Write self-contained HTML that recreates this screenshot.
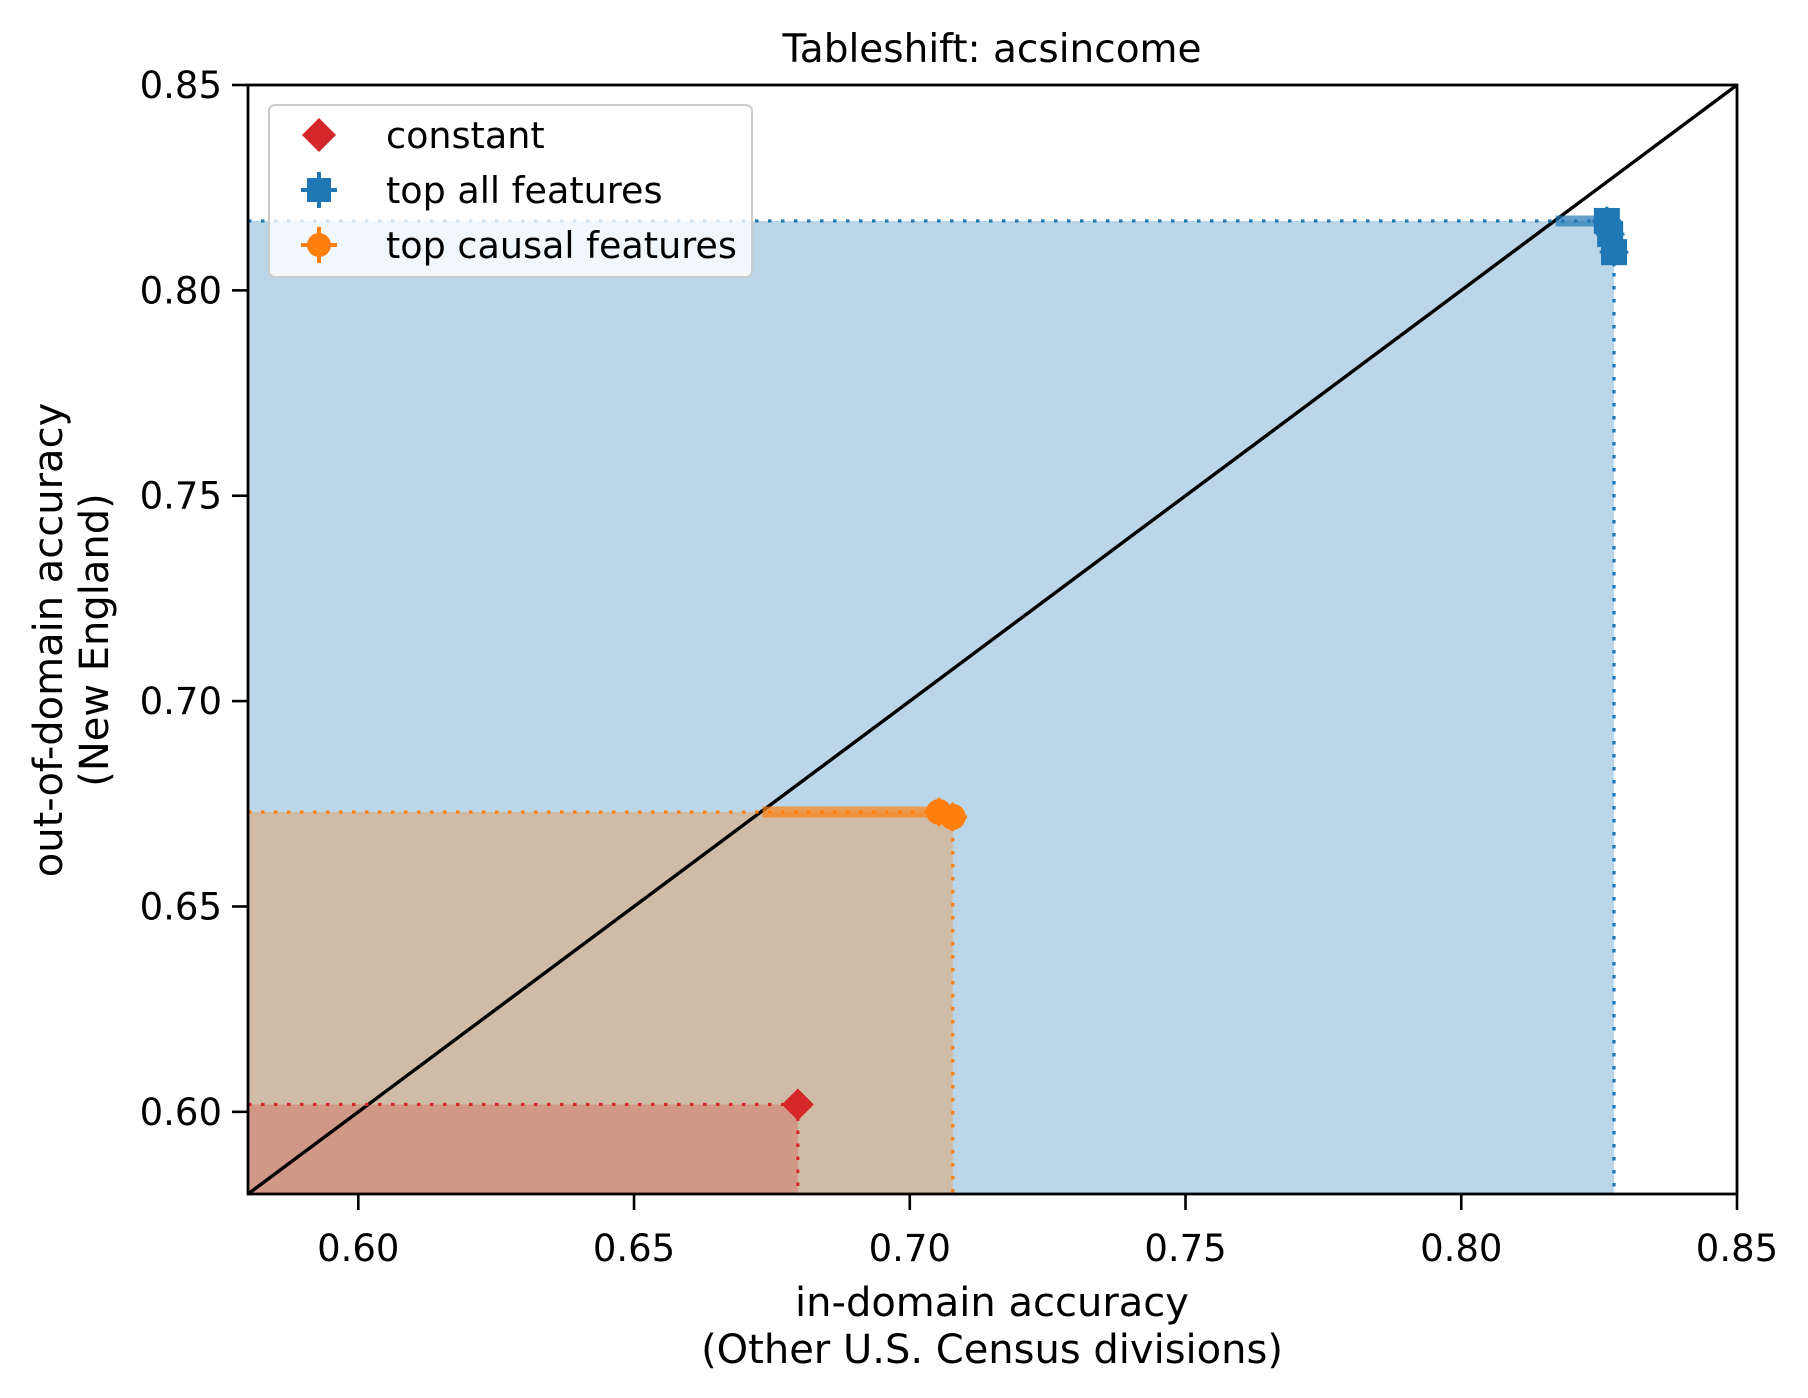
<!DOCTYPE html>
<html><head><meta charset="utf-8"><style>
html,body{margin:0;padding:0;background:#fff}
svg{display:block;font-family:"DejaVu Sans","Liberation Sans",sans-serif}
</style></head><body>
<svg id="chart" width="1808" height="1398" viewBox="0 0 1808 1398">
<rect width="1808" height="1398" fill="#fff"/>
<g id="plot"></g>
</svg>
<script>
const seriesNames = ["constant", "top all features", "top causal features"];
const seriesColors = ["#d62728", "#1f77b4", "#ff7f0e"];
const constX = [0.6797];
const constY = [0.6018];
const allX = [0.8264, 0.8270, 0.8277];
const allY = [0.8169, 0.8137, 0.8093];
const causalX = [0.7053, 0.7078];
const causalY = [0.6730, 0.6718];
const xTicks = [0.60, 0.65, 0.70, 0.75, 0.80, 0.85];
const yTicks = [0.60, 0.65, 0.70, 0.75, 0.80, 0.85];
const xDomain = [0.58, 0.85];
const yDomain = [0.58, 0.85];

const L=248,R=1737,T=85,B=1194;
const sx=v=>L+(v-xDomain[0])/(xDomain[1]-xDomain[0])*(R-L);
const sy=v=>B-(v-yDomain[0])/(yDomain[1]-yDomain[0])*(B-T);
const NS="http://www.w3.org/2000/svg";
const g=document.getElementById('plot');
function mk(tag,attrs,parent){const e=document.createElementNS(NS,tag);for(const k in attrs)e.setAttribute(k,attrs[k]);(parent||g).appendChild(e);return e;}

const defs=mk('defs',{});
const cp=mk('clipPath',{id:'clip'},defs);mk('rect',{x:L,y:T,width:R-L,height:B-T},cp);
const inner=mk('g',{'clip-path':'url(#clip)'});

const fillOp=[0.23,0.3,0.3];
const groups=[[allX,allY,1],[causalX,causalY,2],[constX,constY,0]];
groups.forEach(([xs,ys,ci])=>{
  const mx=Math.max(...xs), my=Math.max(...ys);
  const r=mk('rect',{x:L,y:sy(my),width:sx(mx)-L,height:B-sy(my),fill:seriesColors[ci],'fill-opacity':fillOp[ci]},inner);
  
  
});
const d=mk('line',{x1:sx(xDomain[0]),y1:sy(yDomain[0]),x2:sx(0.85),y2:sy(0.85),stroke:'#000','stroke-width':3.4},inner);


groups.forEach(([xs,ys,ci])=>{
  const mx=Math.max(...xs), my=Math.max(...ys), minx=Math.min(...xs);
  const c=seriesColors[ci];
  const h=mk('line',{x1:L,y1:sy(my),x2:sx(mx),y2:sy(my),stroke:c,'stroke-width':3.2,'stroke-dasharray':'3.5,9.5'},inner);
  
  
  const v=mk('line',{x1:sx(mx),y1:sy(my),x2:sx(mx),y2:B,stroke:c,'stroke-width':3.2,'stroke-dasharray':'3.5,9.5'},inner);
  
  
  if(ci!==0){
    const lo = ci===1 ? minx-0.0093 : minx-0.032;
    const eb=mk('line',{x1:sx(lo),y1:sy(ys[0]),x2:sx(xs[0]),y2:sy(ys[0]),stroke:c,'stroke-width':11,'stroke-opacity':0.7},inner);
    
    
  }
});
function marker(ci,x,y,s,parent,ext){
  const c=seriesColors[ci];let e;
  if(ci===0){e=mk('polygon',{points:`${x},${y-s} ${x+s},${y} ${x},${y+s} ${x-s},${y}`,fill:c},parent);}
  else{
    const gg=mk('g',{},parent);
    mk('line',{x1:x-s*ext,y1:y,x2:x+s*ext,y2:y,stroke:c,'stroke-width':3},gg);
    mk('line',{x1:x,y1:y-s*ext,x2:x,y2:y+s*ext,stroke:c,'stroke-width':3},gg);
    if(ci===1) mk('rect',{x:x-s,y:y-s,width:2*s,height:2*s,fill:c},gg);
    else mk('circle',{cx:x,cy:y,r:s,fill:c},gg);
    e=gg;
  }
  return e;
}
groups.forEach(([xs,ys,ci])=>{
  xs.forEach((xv,i)=>{
    const m=marker(ci,sx(xv),sy(ys[i]),ci===0?16:13,inner,1.1);
    
    
  });
});
const fr=mk('rect',{x:L,y:T,width:R-L,height:B-T,fill:'none',stroke:'#000','stroke-width':2.8});


xTicks.forEach(t=>{
  mk('line',{x1:sx(t),y1:B,x2:sx(t),y2:B+16,stroke:'#000','stroke-width':2.6});
  const tx=mk('text',{x:sx(t),y:B+67,'font-size':37,'text-anchor':'middle',fill:'#000'});tx.textContent=t.toFixed(2);
  
  
});
yTicks.forEach(t=>{
  mk('line',{x1:L-16,y1:sy(t),x2:L,y2:sy(t),stroke:'#000','stroke-width':2.6});
  const tx=mk('text',{x:L-26,y:sy(t)+13,'font-size':37,'text-anchor':'end',fill:'#000'});tx.textContent=t.toFixed(2);
  
  
});
</script>
<script>
(function(){
const svg=document.getElementById('chart');const NS="http://www.w3.org/2000/svg";
function t(x,y,s,txt,name,extra){const e=document.createElementNS(NS,'text');e.setAttribute('x',x);e.setAttribute('y',y);e.setAttribute('font-size',s);e.setAttribute('fill','#000');if(extra)for(const k in extra)e.setAttribute(k,extra[k]);e.textContent=txt;


svg.appendChild(e);return e;}
t(992,62,39,'Tableshift: acsincome','chart-title',{'text-anchor':'middle'});
t(992,1316,40,'in-domain accuracy','x-axis-title',{'text-anchor':'middle'});
t(992,1363,40,'(Other U.S. Census divisions)','x-axis-subtitle',{'text-anchor':'middle'});
t(62,640,40,'out-of-domain accuracy','y-axis-title',{'text-anchor':'middle',transform:'rotate(-90 62 640)'});
t(108,640,40,'(New England)','y-axis-subtitle',{'text-anchor':'middle',transform:'rotate(-90 108 640)'});
const lg=document.createElementNS(NS,'g');


svg.appendChild(lg);
const box=document.createElementNS(NS,'rect');
const at={x:269,y:105,width:483,height:172,rx:6,fill:'#fff','fill-opacity':0.8,stroke:'#ccc','stroke-width':2};
for(const k in at)box.setAttribute(k,at[k]);lg.appendChild(box);
const names=["constant","top all features","top causal features"];
const cols=["#d62728","#1f77b4","#ff7f0e"];
names.forEach((n,i)=>{
  const y=135+i*55,x=319;
  const mg=document.createElementNS(NS,'g');
  
  
  lg.appendChild(mg);
  let html='';
  if(i===0) html=`<polygon points="${x},${y-17} ${x+17},${y} ${x},${y+17} ${x-17},${y}" fill="${cols[0]}"/>`;
  else{
    html=`<line x1="${x-18}" y1="${y}" x2="${x+18}" y2="${y}" stroke="${cols[i]}" stroke-width="4"/><line x1="${x}" y1="${y-18}" x2="${x}" y2="${y+18}" stroke="${cols[i]}" stroke-width="4"/>`;
    html+= i===1?`<rect x="${x-12}" y="${y-12}" width="24" height="24" fill="${cols[1]}"/>`:`<circle cx="${x}" cy="${y}" r="12" fill="${cols[2]}"/>`;
  }
  mg.innerHTML=html;
  const tx=document.createElementNS(NS,'text');tx.setAttribute('x',386);tx.setAttribute('y',y+13);tx.setAttribute('font-size',36.5);tx.textContent=n;mg.appendChild(tx);
});
})();
</script>
</body></html>
